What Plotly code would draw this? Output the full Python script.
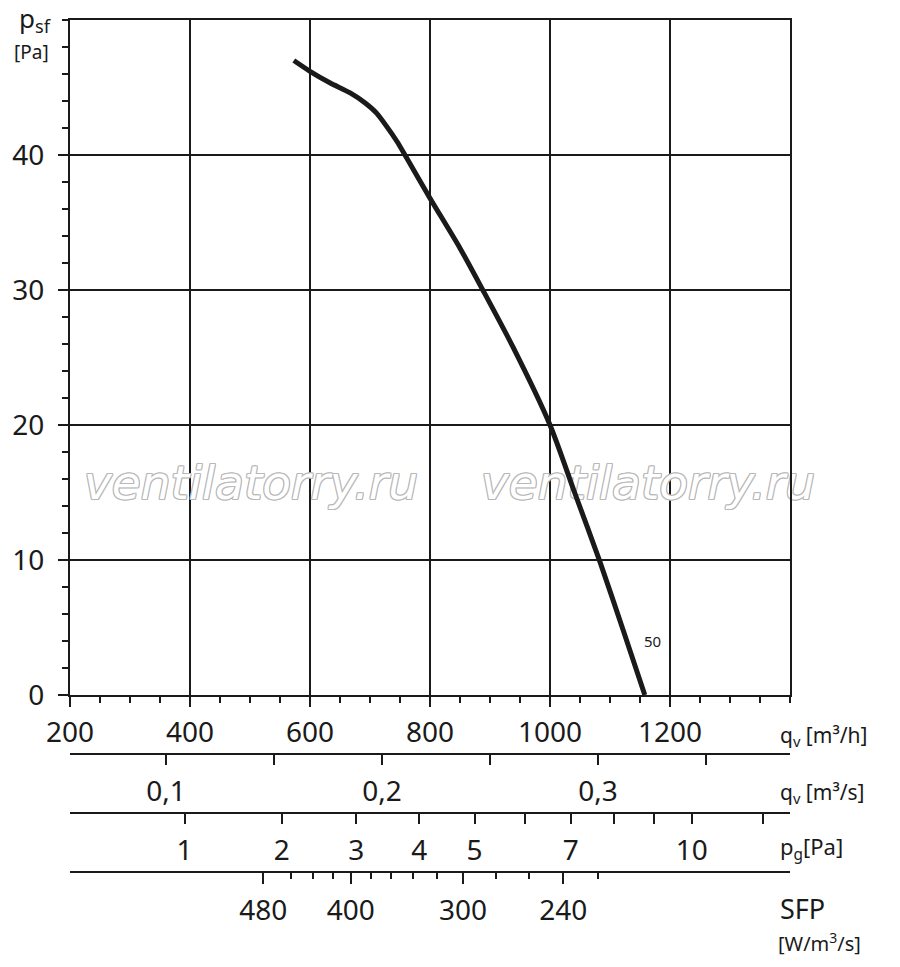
import plotly.graph_objects as go

# ---- data ----
flow_m3h = [573, 600, 633, 667, 692, 711, 728, 745, 761, 800, 850, 888, 938, 1000, 1041, 1083, 1122, 1158]
pressure_pa = [47.0, 46.2, 45.35, 44.6, 43.85, 43.1, 42.1, 41.0, 39.8, 36.8, 33.1, 30.0, 25.8, 20.0, 15.0, 9.9, 4.8, 0.0]

main_x_ticks = [200, 400, 600, 800, 1000, 1200]
main_y_ticks = [0, 10, 20, 30, 40]

m3s_ticks = [0.10, 0.15, 0.20, 0.25, 0.30, 0.35]
m3s_labels = ["0,1", "", "0,2", "", "0,3", ""]

pg_ticks = [1, 2, 3, 4, 5, 6, 7, 8, 9, 10, 12]
pg_labels = ["1", "2", "3", "4", "5", "", "7", "", "", "10", ""]
pg_flow_at_1pa = 391.0  # m3/h where dynamic pressure = 1 Pa

sfp_major = [480, 400, 300, 240]
sfp_major_flow = [522, 668, 855, 1022]
sfp_minor = [460, 440, 420, 380, 360, 340, 320, 280, 260, 220]
sfp_minor_flow = [569, 605, 638, 701, 735, 771, 811, 910, 965, 1080]

curve_label = "50"
watermark = "ventilatorry.ru"

# ---- geometry helpers (pixel -> paper / data) ----
L, R, T, B = 70, 790, 20, 920
def px(xp):
    return (xp - L) / (R - L)
def py(yp):
    return (B - yp) / (B - T)
def dx(xp):  # pixel -> flow axis value
    return 200 + (xp - L) / (R - L) * 1200
def dy(yp):  # pixel -> pressure axis value
    return (695 - yp) / (695 - T) * 50

FONT = "Noto Sans"
INK = "#1a1a1a"

fig = go.Figure()
# watermark (drawn below the curve)
oc = "#b8b8b8"
outline = f"1px 0 0 {oc}, -1px 0 0 {oc}, 0 1px 0 {oc}, 0 -1px 0 {oc}, 1px 1px 0 {oc}, -1px -1px 0 {oc}, 1px -1px 0 {oc}, -1px 1px 0 {oc}"
fig.add_trace(go.Scatter(
    x=[dx(251), dx(648)], y=[dy(487), dy(487)], mode="text",
    text=[watermark, watermark], textposition="middle center",
    textfont=dict(family="DejaVu Sans", size=47, style="italic",
                  color="white", shadow=outline),
    cliponaxis=False, hoverinfo="skip", showlegend=False,
))
fig.add_trace(go.Scatter(
    x=flow_m3h, y=pressure_pa, mode="lines",
    line=dict(color=INK, width=5, shape="spline", smoothing=0.7),
    hoverinfo="skip", showlegend=False,
))
# empty traces so that the secondary flow scales are drawn
for ax in ("x2", "x3", "x4"):
    fig.add_trace(go.Scatter(x=[None], y=[None], xaxis=ax, yaxis="y",
                             mode="lines", hoverinfo="skip", showlegend=False))

common = dict(showline=True, linecolor=INK, linewidth=2, ticks="outside",
              tickcolor=INK, tickwidth=2, tickfont=dict(family=FONT, size=28, color=INK))

fig.update_layout(
    width=900, height=967,
    margin=dict(l=L, r=900 - R, t=T, b=967 - B, autoexpand=False),
    paper_bgcolor="white", plot_bgcolor="white",
    showlegend=False,
    xaxis=dict(
        range=[200, 1400], tickmode="array", tickvals=main_x_ticks,
        ticklen=10, showgrid=True, gridcolor=INK, gridwidth=1.5,
        zeroline=False, mirror=True, anchor="y", ticklabelstandoff=1,
        minor=dict(tickmode="linear", tick0=200, dtick=50, ticks="outside",
                   ticklen=6, tickwidth=2, tickcolor=INK, showgrid=False),
        **common,
    ),
    yaxis=dict(
        range=[0, 50], domain=[py(695), 1], tickmode="array", tickvals=main_y_ticks,
        ticklen=10, showgrid=True, gridcolor=INK, gridwidth=1.5,
        zeroline=False, mirror=True, ticklabelstandoff=8,
        minor=dict(tickmode="linear", tick0=0, dtick=2, ticks="outside",
                   ticklen=6, tickwidth=2, tickcolor=INK, showgrid=False),
        **common,
    ),
    xaxis2=dict(
        range=[200, 1400], overlaying="x", anchor="free", position=py(754), side="bottom",
        tickmode="array", tickvals=[v * 3600 for v in m3s_ticks], ticktext=m3s_labels,
        ticklen=10, showgrid=False, zeroline=False, ticklabelstandoff=2,
        **common,
    ),
    xaxis3=dict(
        range=[200, 1400], overlaying="x", anchor="free", position=py(812.7), side="bottom",
        tickmode="array", tickvals=[pg_flow_at_1pa * v ** 0.5 for v in pg_ticks], ticktext=pg_labels,
        ticklen=10, showgrid=False, zeroline=False, ticklabelstandoff=3,
        **common,
    ),
    xaxis4=dict(
        range=[200, 1400], overlaying="x", anchor="free", position=py(871.7), side="bottom",
        tickmode="array", tickvals=sfp_major_flow, ticktext=[str(v) for v in sfp_major],
        ticklen=11, showgrid=False, zeroline=False, ticklabelstandoff=3,
        minor=dict(tickmode="array", tickvals=sfp_minor_flow, ticks="outside",
                   ticklen=6, tickwidth=2, tickcolor=INK, showgrid=False),
        **common,
    ),
)

def ann(text, xp, yp, size, xanchor="left", **kw):
    fig.add_annotation(text=text, x=px(xp), y=py(yp), xref="paper", yref="paper",
                       xanchor=xanchor, yanchor="middle", showarrow=False,
                       font=dict(family=FONT, size=size, color=INK), **kw)

ann("q<sub>v</sub> [m³/h]", 778, 736, 21)
ann("q<sub>v</sub> [m³/s]", 778, 793, 21)
ann("p<sub>g</sub>[Pa]", 778, 848, 22)
ann("SFP", 778, 908, 27)
ann("[W/m<sup>3</sup>/s]", 776, 942, 20)
ann("p<sub>sf</sub>", 17, 19, 26)
ann("[Pa]", 12, 52, 19)

fig.add_annotation(text=curve_label, x=1170, y=4.0, xref="x", yref="y", showarrow=False,
                   font=dict(family=FONT, size=15, color=INK))

fig.write_html("out.html", config={"displayModeBar": False},
               post_script="document.body.style.margin='0';")
